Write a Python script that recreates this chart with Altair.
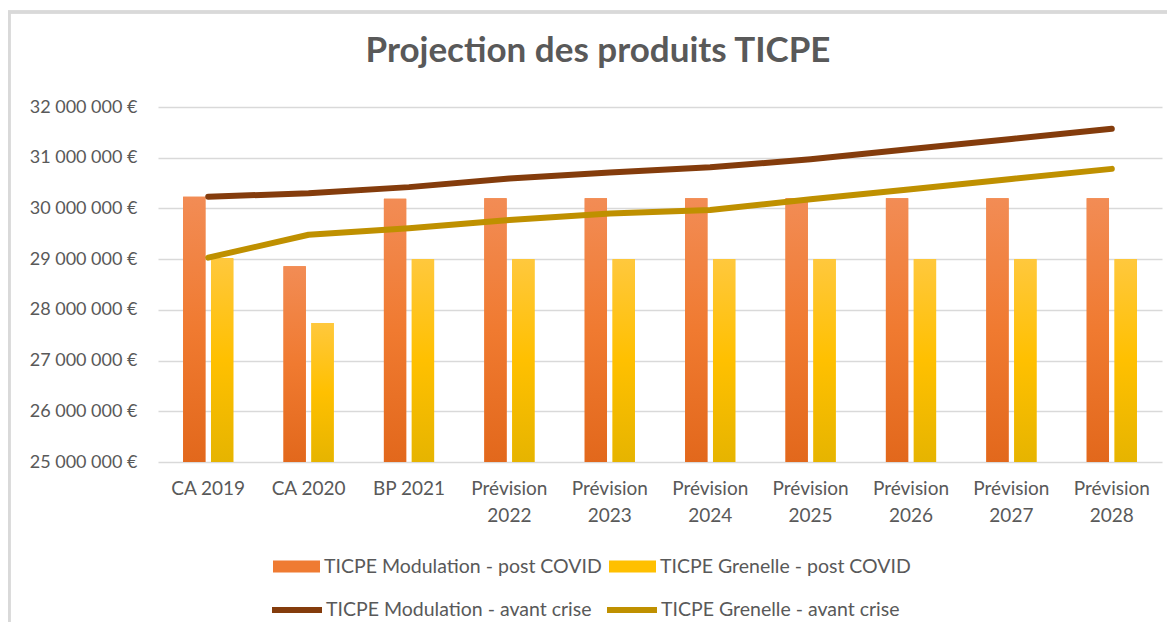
import altair as alt
import pandas as pd

categories = ["CA 2019", "CA 2020", "BP 2021", "Prévision\n2022", "Prévision\n2023",
              "Prévision\n2024", "Prévision\n2025", "Prévision\n2026", "Prévision\n2027",
              "Prévision\n2028"]
mod_post = [30230000, 28860000, 30190000, 30200000, 30200000, 30200000, 30200000, 30200000, 30200000, 30200000]
gren_post = [29020000, 27740000, 29000000, 29000000, 29000000, 29000000, 29000000, 29000000, 29000000, 29000000]
mod_avant = [30230000, 30300000, 30420000, 30590000, 30710000, 30810000, 30970000, 31170000, 31370000, 31570000]
gren_avant = [29030000, 29480000, 29610000, 29770000, 29900000, 29970000, 30180000, 30380000, 30580000, 30780000]
y_ticks = [25000000, 26000000, 27000000, 28000000, 29000000, 30000000, 31000000, 32000000]

S1 = "TICPE Modulation - post COVID"
S2 = "TICPE Grenelle - post COVID"
S3 = "TICPE Modulation - avant crise"
S4 = "TICPE Grenelle - avant crise"

bars_df = pd.DataFrame({
    "cat": categories * 2,
    "series": [S1] * len(categories) + [S2] * len(categories),
    "value": mod_post + gren_post,
})
lines_df = pd.DataFrame({
    "cat": categories * 2,
    "series": [S3] * len(categories) + [S4] * len(categories),
    "value": mod_avant + gren_avant,
})

FONT = "Lato"
GREY = "#595959"

x_enc = alt.X(
    "cat:N", sort=categories,
    scale=alt.Scale(paddingInner=0.5, paddingOuter=0.25),
    axis=alt.Axis(title=None, labelAngle=0, labelExpr="split(datum.label, '\\n')",
                  labelFont=FONT, labelFontSize=19, labelColor=GREY, labelPadding=17,
                  labelLineHeight=27, ticks=False, domain=False, grid=False, labelBaseline="top"),
)
y_enc = alt.Y(
    "value:Q",
    scale=alt.Scale(domain=[25000000, 32000000], zero=False, nice=False),
    axis=alt.Axis(title=None, values=y_ticks,
                  labelExpr="replace(replace(format(datum.value, ',.0f'), ',', ' '), ',', ' ') + ' €'",
                  labelFont=FONT, labelFontSize=18, labelColor=GREY, labelPadding=21,
                  grid=True, gridColor="#D9D9D9", gridWidth=1.5, ticks=False, domain=False),
)
xoff = alt.XOffset("series:N", scale=alt.Scale(domain=[S1, S2], paddingInner=0.2))
y2 = alt.Y2(datum=25000000)

bar_legend = alt.Legend(
    title=None, orient="none", legendX=115, legendY=436, direction="horizontal", columns=2,
    symbolType="M-1,-0.255H1V0.255H-1Z", symbolSize=2209, symbolStrokeWidth=0,
    labelFont=FONT, labelFontSize=19.5, labelColor=GREY, labelOffset=4, columnPadding=7,
    labelLimit=400, padding=0,
)
line_legend = alt.Legend(
    title=None, orient="none", legendX=111, legendY=475, direction="horizontal", columns=2,
    symbolType="stroke", symbolSize=2500, symbolStrokeWidth=6,
    labelFont=FONT, labelFontSize=19.5, labelColor=GREY, labelOffset=1, columnPadding=3,
    labelLimit=400, padding=0,
)

base_bars = alt.Chart(bars_df).mark_bar().encode(
    x=x_enc, xOffset=xoff, y=y_enc, y2=y2,
    color=alt.Color("series:N", scale=alt.Scale(domain=[S1, S2], range=["#EF7B32", "#FFC000"]),
                    legend=bar_legend),
)

grad_orange = alt.Gradient(gradient="linear", x1=0, y1=0, x2=0, y2=1, stops=[
    alt.GradientStop(offset=0, color="#F28C55"),
    alt.GradientStop(offset=0.5, color="#F07A30"),
    alt.GradientStop(offset=1, color="#E2681C"),
])
grad_yellow = alt.Gradient(gradient="linear", x1=0, y1=0, x2=0, y2=1, stops=[
    alt.GradientStop(offset=0, color="#FFC83D"),
    alt.GradientStop(offset=0.5, color="#FFC000"),
    alt.GradientStop(offset=1, color="#E6B400"),
])

g1 = alt.Chart(bars_df).transform_filter(alt.datum.series == S1).mark_bar(color=grad_orange).encode(
    x=x_enc, xOffset=xoff, y=y_enc, y2=y2)
g2 = alt.Chart(bars_df).transform_filter(alt.datum.series == S2).mark_bar(color=grad_yellow).encode(
    x=x_enc, xOffset=xoff, y=y_enc, y2=y2)

line_layer = alt.Chart(lines_df).mark_line(strokeWidth=6, strokeCap="round", strokeJoin="round").encode(
    x=x_enc, y=y_enc,
    stroke=alt.Stroke("series:N", scale=alt.Scale(domain=[S3, S4], range=["#843C0C", "#BF9000"]),
                      legend=line_legend),
)

frame = alt.Chart(bars_df).mark_rect(fill=None, stroke="#D9D9D9", strokeWidth=2.5).encode(
    x=alt.value(-149), y=alt.value(-95), x2=alt.value(1100), y2=alt.value(600))

chart = alt.layer(frame, base_bars, g1, g2, line_layer).properties(
    width=1004, height=355,
    title=alt.TitleParams("Projection des produits TICPE", font=FONT, fontSize=35,
                          fontWeight="bold", color=GREY, anchor="middle", dx=-62, offset=0,
                          baseline="alphabetic", dy=86),
    autosize=alt.AutoSizeParams(type="none"),
    padding={"left": 150, "top": 99, "right": 5, "bottom": 160},
).configure_view(stroke=None)

chart.save("out.html", embed_options={"renderer": "svg", "actions": False})
